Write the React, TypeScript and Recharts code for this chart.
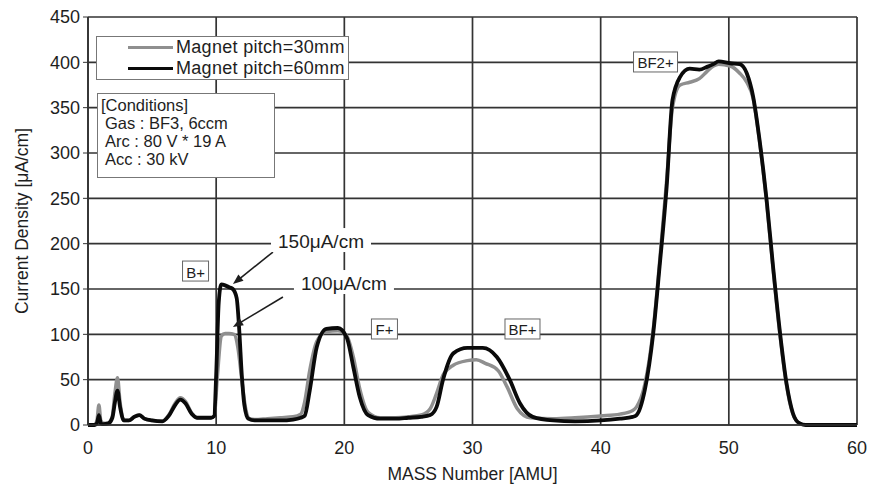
import React from "react"
import { LineChart, Line, XAxis, YAxis, CartesianGrid, ReferenceDot, ReferenceLine } from "recharts"

// 60 mm magnet pitch (black)
const pitch60Mass = [
  0, 0.5, 0.7, 0.85, 1.0, 1.2, 1.6, 1.9, 2.1, 2.3, 2.5, 2.8, 3.2, 3.6, 4.0, 4.4, 5.0, 5.8, 6.3, 6.8, 7.2, 7.6,
  8.1, 8.5, 9.0, 9.6, 9.85, 10.0, 10.2, 10.4, 10.7, 11.0, 11.3, 11.6, 11.8, 12.0, 12.2, 12.5, 13, 14, 15, 16,
  16.6, 16.9, 17.3, 17.85, 18.6, 19.5, 20.2, 20.7, 21.2, 21.85, 22.8, 24, 25, 26, 26.7, 27.2, 27.7, 28.5, 29.6,
  30.8, 31.9, 32.9, 33.7, 34.7, 36.3, 38, 40, 41.5, 42.5, 42.8, 43.45, 44.1, 44.6, 45.15, 45.6, 46.2, 46.95,
  47.7, 48.3, 48.8, 49.2, 50.1, 50.85, 51.4, 51.9, 52.4, 52.95, 53.45, 54.0, 54.5, 55.0, 55.5, 56, 60,
]
const pitch60Density = [
  0, 0, 2, 11, 2, 1, 2, 8, 25, 38, 20, 5, 5, 9, 11, 7, 5, 4, 10, 22, 28, 24,
  12, 8, 8, 8, 10, 55, 135, 155, 154, 152, 150, 140, 105, 55, 22, 7, 5, 5, 5, 6,
  8, 10, 38, 86, 106, 107, 96, 64, 31, 11, 7, 7, 8, 9, 11, 20, 50, 79, 85,
  85, 75, 50, 24, 9, 5, 4, 5, 7, 9, 11, 39, 101, 175, 263, 358, 384, 393,
  392, 395, 398, 401, 399, 398, 388, 362, 314, 248, 175, 101, 46, 13, 2, 0, 0,
]

// 30 mm magnet pitch (gray)
const pitch30Mass = [
  0, 0.5, 0.7, 0.85, 1.0, 1.2, 1.6, 1.9, 2.1, 2.3, 2.5, 2.8, 3.2, 3.6, 4.0, 4.4, 5.0, 5.8, 6.3, 6.8, 7.2, 7.6,
  8.1, 8.5, 9.0, 9.6, 9.85, 10.1, 10.4, 10.7, 11.0, 11.4, 11.7, 12.0, 12.3, 12.6, 13, 14, 15, 16, 16.6, 16.9,
  17.3, 17.85, 18.6, 19.5, 20.2, 20.7, 21.2, 21.85, 22.8, 24, 25, 26, 26.7, 27.2, 27.7, 28.5, 29.6, 30.3, 31,
  32, 32.7, 33.5, 34.5, 36.3, 38, 40, 41.5, 42.5, 42.8, 43.45, 44.1, 44.6, 45.15, 45.6, 46.2, 46.95, 47.7,
  48.3, 48.8, 49.2, 50.1, 50.85, 51.4, 51.9, 52.4, 52.95, 53.45, 54.0, 54.5, 55.0, 55.5, 56, 60,
]
const pitch30Density = [
  0, 0, 5, 22, 5, 2, 2, 10, 35, 52, 25, 5, 5, 9, 11, 7, 5, 4, 11, 24, 30, 26,
  13, 8, 8, 8, 10, 55, 98, 101, 101, 100, 85, 50, 18, 7, 6, 7, 8, 9, 12, 25,
  60, 92, 103, 104, 98, 75, 40, 14, 8, 8, 9, 11, 18, 35, 55, 66, 71, 72, 68,
  60, 42, 18, 8, 7, 8, 10, 12, 16, 20, 45, 105, 180, 270, 350, 375, 378, 382,
  390, 396, 398, 396, 388, 378, 360, 312, 245, 172, 98, 44, 12, 2, 0, 0,
]

const xTicks = [0, 10, 20, 30, 40, 50, 60]
const yTicks = [0, 50, 100, 150, 200, 250, 300, 350, 400, 450]

// peak labels [mass, density, text]
const peakLabels: [number, number, string][] = [
  [8.39, 169.8, "B+"],
  [23.13, 105.9, "F+"],
  [33.9, 105.9, "BF+"],
  [44.28, 400.4, "BF2+"],
]

const conditions = ["Gas : BF3, 6ccm", "Arc : 80 V * 19 A", "Acc : 30 kV"]

const pitch60 = pitch60Mass.map((x, i) => ({ x, y: pitch60Density[i] }))
const pitch30 = pitch30Mass.map((x, i) => ({ x, y: pitch30Density[i] }))

const FONT = '"Liberation Sans", Arial, Helvetica, sans-serif'
const INK = "#1e1e1e"
const GRID = "#333"

const boxedLabel = (text: string) => (props: any) => {
  const { cx, cy } = props
  const w = text.length * 9 + 8
  return (
    <g>
      <rect x={cx - w / 2} y={cy - 10} width={w} height={20} fill="#fff" stroke="#666" strokeWidth={1} />
      <text x={cx} y={cy + 1} textAnchor="middle" dominantBaseline="central" fontSize={15} fill={INK} fontFamily={FONT}>
        {text}
      </text>
    </g>
  )
}

const plainLabel = (text: string) => (props: any) => {
  const { cx, cy } = props
  return (
    <g>
      <rect x={cx - 50} y={cy - 12} width={100} height={24} fill="#fff" />
      <text x={cx} y={cy + 1} textAnchor="middle" dominantBaseline="central" fontSize={19} fill={INK} fontFamily={FONT}>
        {text}
      </text>
    </g>
  )
}

const arrow = (props: any) => {
  const { x1, y1, x2, y2 } = props
  const a = Math.atan2(y2 - y1, x2 - x1)
  const len = 11
  const spread = 0.38
  const p1 = `${x2 - len * Math.cos(a - spread)},${y2 - len * Math.sin(a - spread)}`
  const p2 = `${x2 - len * Math.cos(a + spread)},${y2 - len * Math.sin(a + spread)}`
  return (
    <g>
      <line x1={x1} y1={y1} x2={x2 - 6 * Math.cos(a)} y2={y2 - 6 * Math.sin(a)} stroke={INK} strokeWidth={1.6} />
      <polygon points={`${x2},${y2} ${p1} ${p2}`} fill={INK} />
    </g>
  )
}

const YLabel = (props: any) => {
  const { viewBox } = props
  const cx = 22
  const cy = viewBox.y + viewBox.height / 2
  return (
    <text
      x={cx}
      y={cy}
      transform={`rotate(-90 ${cx} ${cy})`}
      textAnchor="middle"
      dominantBaseline="central"
      fontSize={17.5}
      fill={INK}
      fontFamily={FONT}
    >
      Current Density [μA/cm]
    </text>
  )
}

export default function App() {
  return (
    <div style={{ position: "absolute", left: 0, top: 0, width: 872, height: 491, background: "#fff", fontFamily: FONT }}>
      <LineChart width={872} height={491} margin={{ top: 17, right: 15, left: 0, bottom: 0 }}>
        <CartesianGrid stroke={GRID} strokeWidth={1.7} />
        <XAxis
          dataKey="x"
          type="number"
          domain={[0, 60]}
          ticks={xTicks}
          height={66}
          tickLine={false}
          tickSize={8}
          tickMargin={8}
          axisLine={{ stroke: GRID, strokeWidth: 1.7 }}
          tick={{ fill: INK, fontSize: 18, fontFamily: FONT }}
          label={{ value: "MASS Number [AMU]", position: "insideBottom", offset: 11, fill: INK, fontSize: 17.5, fontFamily: FONT }}
        />
        <YAxis
          type="number"
          domain={[0, 450]}
          ticks={yTicks}
          width={88}
          tickSize={5}
          tickMargin={3}
          interval={0}
          axisLine={{ stroke: GRID, strokeWidth: 1.7 }}
          tickLine={{ stroke: GRID }}
          tick={{ fill: INK, fontSize: 18, fontFamily: FONT }}
          label={<YLabel />}
        />
        <Line
          data={pitch30}
          dataKey="y"
          type="monotone"
          stroke="#8f8f8f"
          strokeWidth={3.5}
          dot={false}
          isAnimationActive={false}
        />
        <Line
          data={pitch60}
          dataKey="y"
          type="monotone"
          stroke="#0a0a0a"
          strokeWidth={3.8}
          dot={false}
          isAnimationActive={false}
        />
        {peakLabels.map(([x, y, t]) => (
          <ReferenceDot key={t} x={x} y={y} r={0} shape={boxedLabel(t)} ifOverflow="visible" />
        ))}
        <ReferenceDot x={18.18} y={204} r={0} shape={plainLabel("150μA/cm")} ifOverflow="visible" />
        <ReferenceDot x={19.97} y={157.7} r={0} shape={plainLabel("100μA/cm")} ifOverflow="visible" />
        <ReferenceLine segment={[{ x: 14.43, y: 190.8 }, { x: 11.31, y: 155.5 }]} shape={arrow} ifOverflow="visible" />
        <ReferenceLine segment={[{ x: 15.21, y: 141.2 }, { x: 11.31, y: 108.1 }]} shape={arrow} ifOverflow="visible" />
      </LineChart>

      <div
        style={{
          position: "absolute",
          left: 96,
          top: 36,
          width: 253,
          height: 44,
          background: "#fff",
          border: "1px solid #777",
          boxSizing: "border-box",
          fontSize: 18,
          color: INK,
          lineHeight: "21px",
        }}
      >
        {[
          ["#8f8f8f", "Magnet pitch=30mm"],
          ["#0a0a0a", "Magnet pitch=60mm"],
        ].map(([c, t]) => (
          <div key={t} style={{ display: "flex", alignItems: "center", height: 21 }}>
            <span style={{ display: "inline-block", marginLeft: 31, width: 45, height: 3.5, background: c, marginRight: 3 }} />
            <span style={{ letterSpacing: 0.3 }}>{t}</span>
          </div>
        ))}
      </div>

      <div
        style={{
          position: "absolute",
          left: 97,
          top: 93,
          width: 178,
          height: 85,
          background: "#fff",
          border: "1px solid #777",
          boxSizing: "border-box",
          fontSize: 16.5,
          color: INK,
          lineHeight: "18px",
          padding: "2px 0 0 3px",
        }}
      >
        <div>[Conditions]</div>
        {conditions.map((c) => (
          <div key={c} style={{ paddingLeft: 4 }}>
            {c}
          </div>
        ))}
      </div>
    </div>
  )
}
